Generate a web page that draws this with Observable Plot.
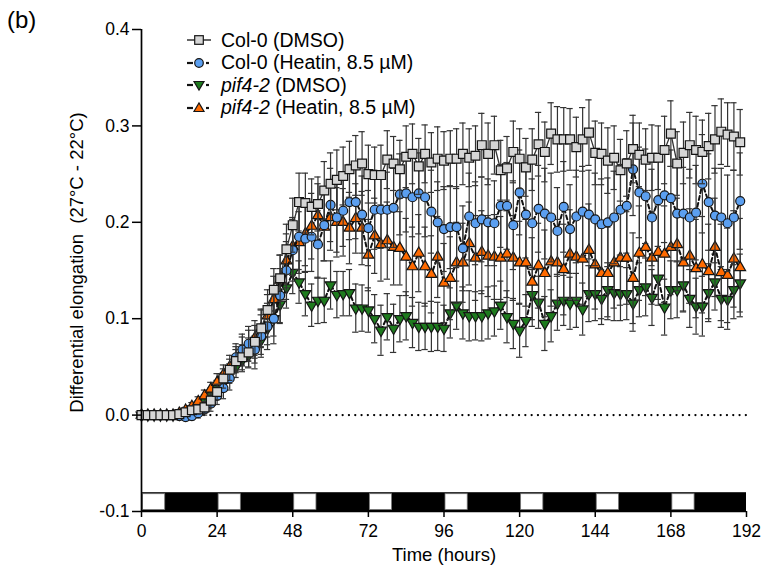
<!DOCTYPE html>
<html><head><meta charset="utf-8">
<script src="https://cdn.jsdelivr.net/npm/d3@7"></script>
<script src="https://cdn.jsdelivr.net/npm/@observablehq/plot@0.6"></script>
<style>
body{margin:0;background:#fff;font-family:"Liberation Sans",Arial,sans-serif;}
#wrap{position:relative;width:762px;height:579px;overflow:hidden}
#legend{position:absolute;left:186px;top:29px;font-size:19.5px;color:#000}
.row{display:flex;align-items:center;height:22.5px;white-space:nowrap}
.row svg{margin-right:9px;flex:none}
#panel{position:absolute;left:7px;top:6px;font-size:24px;color:#000}
</style></head>
<body><div id="wrap"><div id="chart"></div><div id="legend"></div><div id="panel">(b)</div></div>
<script>
const hours = [0,2,4,6,8,10,12,14,16,18,20,22,24,26,28,30,32,34,36,38,40,42,44,46,48,50,52,54,56,58,60,62,64,66,68,70,72,74,76,78,80,82,84,86,88,90,92,94,96,98,100,102,104,106,108,110,112,114,116,118,120,122,124,126,128,130,132,134,136,138,140,142,144,146,148,150,152,154,156,158,160,162,164,166,168,170,172,174,176,178,180,182,184,186,188,190];

const col0DMSO = [0,0,0,0,0,0,
0.001,0.003,0.005,0.006,0.008,0.015,0.024,0.038,0.047,0.056,0.06,0.065,0.076,0.09,0.109,0.13,0.142,0.172,0.197,
0.221,0.22,0.216,0.219,0.233,0.24,0.244,0.248,0.255,0.259,0.261,0.25,0.249,0.249,0.265,0.261,0.255,0.268,0.271,0.258,0.271,0.262,0.266,0.264,0.266,0.266,0.271,0.267,0.269,0.28,0.271,0.28,0.254,0.256,0.273,0.266,0.257,0.265,0.281,0.273,0.292,0.286,0.286,0.286,0.278,0.286,0.293,0.272,0.271,0.264,0.267,0.254,0.261,0.276,0.27,0.265,0.267,0.267,0.275,0.292,0.261,0.272,0.28,0.275,0.273,0.279,0.286,0.294,0.291,0.289,0.283];
const col0DMSOErr = [0.001,0.001,0.001,0.001,0.001,0.001,
0.002,0.003,0.004,0.005,0.006,0.007,0.008,0.01,0.011,0.012,0.013,0.015,0.017,0.019,0.021,0.022,0.024,0.026,0.028,
0.03,0.031,0.029,0.028,0.03,0.032,0.031,0.03,0.029,0.031,
0.033,0.03,0.029,0.031,0.03,0.028,0.03,0.032,0.031,0.029,
0.03,0.031,0.033,0.03,0.029,0.031,0.032,0.03,0.031,0.033,
0.032,0.03,0.031,0.033,0.032,0.031,0.03,0.032,0.033,0.031,
0.032,0.034,0.033,0.032,0.031,0.033,0.034,0.033,0.032,0.034,
0.033,0.032,0.034,0.035,0.033,0.032,0.034,0.033,0.035,0.034,
0.033,0.032,0.034,0.035,0.033,0.034,0.035,0.034,0.033,0.035,
0.034];

const col0Heatin = [0,0,0,0,0,0,
-0.001,-0.002,-0.001,0.002,0.006,0.012,0.02,0.028,0.038,0.06,0.068,0.074,0.068,0.082,0.092,0.1,0.124,0.15,0.171,
0.185,0.183,0.185,0.177,0.197,0.218,0.205,0.212,0.221,0.221,0.208,0.194,0.213,0.213,0.213,0.215,0.229,0.23,0.226,0.23,0.226,0.211,0.2,0.193,0.195,0.195,0.173,0.206,0.199,0.203,0.2,0.199,0.217,0.217,0.197,0.231,0.208,0.199,0.214,0.209,0.205,0.191,0.216,0.193,0.206,0.211,0.208,0.203,0.198,0.2,0.205,0.213,0.217,0.255,0.231,0.227,0.205,0.223,0.228,0.225,0.209,0.209,0.205,0.21,0.24,0.221,0.207,0.205,0.199,0.205,0.222];
const col0HeatinErr = [0.001,0.001,0.001,0.001,0.001,0.001,
0.002,0.003,0.004,0.005,0.006,0.008,0.009,0.011,0.012,0.014,0.016,0.018,0.02,0.022,0.024,0.026,0.028,0.03,0.032,
0.034,0.035,0.036,0.035,0.037,0.038,0.036,0.037,0.039,0.038,
0.04,0.039,0.041,0.04,0.039,0.041,0.042,0.04,0.041,0.042,
0.041,0.043,0.042,0.044,0.043,0.042,0.044,0.045,0.043,0.044,
0.045,0.044,0.043,0.045,0.046,0.044,0.045,0.046,0.045,0.047,
0.046,0.045,0.047,0.046,0.048,0.047,0.046,0.048,0.047,0.046,
0.048,0.047,0.049,0.048,0.047,0.049,0.05,0.048,0.049,0.05,
0.049,0.048,0.05,0.049,0.051,0.05,0.049,0.051,0.05,0.049,
0.05];

const pif4DMSO = [0,0,0,0,0,0,
0.001,0.003,0.006,0.01,0.015,0.021,0.028,0.035,0.043,0.05,0.057,0.062,0.068,0.078,0.09,0.1,0.115,0.132,0.148,
0.138,0.126,0.114,0.119,0.119,0.135,0.125,0.126,0.127,0.111,0.111,0.109,0.1,0.088,0.102,0.09,0.1,0.103,0.096,0.092,0.092,0.092,0.092,0.09,0.106,0.114,0.106,0.103,0.103,0.103,0.106,0.108,0.114,0.102,0.095,0.088,0.098,0.125,0.117,0.095,0.103,0.116,0.119,0.116,0.119,0.11,0.126,0.126,0.121,0.13,0.127,0.126,0.126,0.116,0.13,0.133,0.122,0.142,0.112,0.13,0.13,0.135,0.121,0.113,0.113,0.127,0.138,0.121,0.12,0.13,0.137];
const pif4DMSOErr = [0.001,0.001,0.001,0.001,0.001,0.001,
0.002,0.003,0.004,0.005,0.006,0.007,0.008,0.009,0.01,0.011,0.012,0.013,0.014,0.015,0.017,0.018,0.02,0.021,0.022,
0.022,0.023,0.022,0.024,0.023,0.025,0.024,0.023,0.024,0.025,
0.024,0.023,0.025,0.026,0.024,0.025,0.024,0.025,0.026,0.025,
0.024,0.026,0.025,0.024,0.026,0.025,0.027,0.026,0.025,0.026,
0.027,0.026,0.025,0.027,0.026,0.028,0.027,0.026,0.027,0.028,
0.027,0.028,0.026,0.027,0.028,0.027,0.029,0.028,0.027,0.028,
0.029,0.028,0.027,0.029,0.028,0.03,0.029,0.028,0.029,0.03,
0.029,0.028,0.03,0.029,0.031,0.03,0.029,0.03,0.031,0.03,
0.03];

const pif4Heatin = [0,0,0,0,0,0,
0.002,0.005,0.009,0.014,0.02,0.027,0.034,0.042,0.05,0.058,0.066,0.072,0.08,0.09,0.103,0.12,0.14,0.16,0.175,
0.179,0.188,0.196,0.207,0.195,0.205,0.2,0.2,0.194,0.204,0.194,0.166,0.186,0.177,0.181,0.174,0.173,0.164,0.154,0.168,0.154,0.146,0.164,0.137,0.142,0.158,0.158,0.178,0.163,0.169,0.165,0.164,0.163,0.167,0.163,0.158,0.158,0.138,0.155,0.147,0.159,0.158,0.151,0.167,0.164,0.162,0.171,0.156,0.147,0.147,0.158,0.163,0.163,0.142,0.168,0.174,0.163,0.169,0.167,0.174,0.177,0.158,0.165,0.152,0.156,0.149,0.174,0.148,0.145,0.162,0.153];
const pif4HeatinErr = [0.001,0.001,0.001,0.001,0.001,0.001,
0.002,0.003,0.004,0.005,0.006,0.007,0.009,0.01,0.012,0.013,0.015,0.016,0.018,0.02,0.022,0.024,0.026,0.028,0.03,
0.032,0.033,0.034,0.033,0.035,0.034,0.036,0.035,0.037,0.036,
0.038,0.037,0.039,0.038,0.04,0.039,0.038,0.04,0.041,0.04,
0.041,0.04,0.042,0.041,0.043,0.042,0.041,0.043,0.044,0.043,
0.042,0.044,0.043,0.045,0.044,0.043,0.045,0.046,0.044,0.045,
0.046,0.045,0.047,0.046,0.045,0.047,0.048,0.046,0.047,0.048,
0.047,0.049,0.048,0.047,0.049,0.05,0.048,0.049,0.05,0.049,
0.048,0.05,0.049,0.051,0.05,0.049,0.051,0.05,0.049,0.05,
0.051];

const lightOn  = [0,24,48,72,96,120,144,168];
const lightOff = [8,32,56,80,104,128,152,176];
const xTicks = [0,24,48,72,96,120,144,168,192];
const yTicks = [-0.1,0,0.1,0.2,0.3,0.4];
const xLabel = "Time (hours)";
const yLabel = "Differential elongation\u00a0 (27°C - 22°C)";

const series = [
  {name:"pif4-2 (DMSO)", v:pif4DMSO, e:pif4DMSOErr, symbol:"triangle", rotate:180, r:4.0, fill:"#1e7b1e", line:"#111", dash:"4,3"},
  {name:"pif4-2 (Heatin, 8.5 µM)", v:pif4Heatin, e:pif4HeatinErr, symbol:"triangle", rotate:0, r:4.0, fill:"#ff6a00", line:"#111", dash:"4,3"},
  {name:"Col-0 (Heatin, 8.5 µM)", v:col0Heatin, e:col0HeatinErr, symbol:"circle", rotate:0, r:4.5, fill:"#5b9ff0", line:"#111", dash:"4,3"},
  {name:"Col-0 (DMSO)", v:col0DMSO, e:col0DMSOErr, symbol:"square", rotate:0, r:5.0, fill:"#d6d6d6", line:"#333", dash:null}
];

const marks = [];
marks.push(Plot.rect([0], {x1: 0, x2: 192, y1: -0.1, y2: -0.0805, fill: "#000"}));
marks.push(Plot.rect(lightOn.map((s,i)=>({s, e:lightOff[i]})), {x1:"s", x2:"e", y1:-0.1, y2:-0.0805, fill:"#fff", stroke:"#777", strokeWidth:0.8, inset:1.5}));
marks.push(Plot.ruleY([0], {stroke:"#000", strokeWidth:2.2, strokeDasharray:"0.1,6.2", strokeLinecap:"round"}));

for (const s of series) {
  const rows = hours.map((h,i)=>({h, v:s.v[i], e:s.e[i]}));
  marks.push(Plot.ruleX(rows, {x:"h", y1:d=>d.v-d.e, y2:d=>d.v+d.e, stroke:"#333", strokeWidth:1.2}));
  marks.push(Plot.ruleY(rows, {y:d=>d.v+d.e, x1:d=>d.h-1, x2:d=>d.h+1, stroke:"#333", strokeWidth:1.2}));
  marks.push(Plot.ruleY(rows, {y:d=>d.v-d.e, x1:d=>d.h-1, x2:d=>d.h+1, stroke:"#333", strokeWidth:1.2}));
  marks.push(Plot.line(rows, {x:"h", y:"v", stroke:s.line, strokeWidth: s.dash ? 2 : 1.3, strokeDasharray: s.dash}));
  marks.push(Plot.dot(rows, {x:"h", y:"v", symbol:s.symbol, r:s.r, rotate:s.rotate, fill:s.fill, stroke:"#151515", strokeWidth:1.2}));
}

marks.push(Plot.ruleX([0], {stroke:"#000", strokeWidth:1.7}));
marks.push(Plot.ruleY([-0.1], {stroke:"#000", strokeWidth:1.7}));
marks.push(Plot.axisY({ticks:yTicks, tickFormat:d=>d.toFixed(1), tickSize:9, tickPadding:3, fontSize:17.5, label:null, strokeWidth:1.5}));
marks.push(Plot.axisX({ticks:xTicks, tickFormat:d=>String(d), tickSize:6, tickPadding:7, fontSize:17.5, label:null, strokeWidth:1.5}));
marks.push(Plot.text([xLabel], {frameAnchor:"bottom", dy:49, fontSize:18.5, fill:"#000"}));
marks.push(Plot.text([yLabel], {frameAnchor:"left", textAnchor:"middle", dx:-64, dy:-8, rotate:-90, fontSize:18.5, fill:"#000"}));

const chart = Plot.plot({
  width: 762, height: 579,
  marginLeft: 141, marginRight: 16, marginTop: 29, marginBottom: 68,
  x: {domain:[0,192]},
  y: {domain:[-0.1,0.4]},
  style: {fontFamily:'"Liberation Sans", Arial, sans-serif', color:"#000", background:"#fff"},
  marks
});
document.getElementById("chart").appendChild(chart);

const legendItems = [series[3], series[2], series[0], series[1]];
const leg = document.getElementById("legend");
for (const s of legendItems) {
  const row = document.createElement("div");
  row.className = "row";
  const W = 26, H = 14, cx = 13, cy = 7;
  let sym = "";
  if (s.symbol === "square") sym = `<rect x="${cx-4.3}" y="${cy-4.3}" width="8.6" height="8.6" fill="${s.fill}" stroke="#151515" stroke-width="1.2"/>`;
  else if (s.symbol === "circle") sym = `<circle cx="${cx}" cy="${cy}" r="4.3" fill="${s.fill}" stroke="#151515" stroke-width="1.2"/>`;
  else if (s.rotate === 180) sym = `<path d="M${cx-5},${cy-3.5}L${cx+5},${cy-3.5}L${cx},${cy+5}Z" fill="${s.fill}" stroke="#151515" stroke-width="1.2"/>`;
  else sym = `<path d="M${cx-5},${cy+3.5}L${cx+5},${cy+3.5}L${cx},${cy-5}Z" fill="${s.fill}" stroke="#151515" stroke-width="1.2"/>`;
  const ln = s.dash
    ? `<line x1="1" y1="${cy}" x2="7" y2="${cy}" stroke="#111" stroke-width="2.2"/><line x1="20" y1="${cy}" x2="23" y2="${cy}" stroke="#111" stroke-width="2.2"/>`
    : `<line x1="1" y1="${cy}" x2="25" y2="${cy}" stroke="#333" stroke-width="1.5"/>`;
  const label = s.name.startsWith("pif4-2")
    ? `<span><i>pif4-2</i>${s.name.slice(6)}</span>`
    : `<span>${s.name}</span>`;
  row.innerHTML = `<svg width="${W}" height="${H}">${ln}${sym}</svg>${label}`;
  leg.appendChild(row);
}
</script>
</body></html>
